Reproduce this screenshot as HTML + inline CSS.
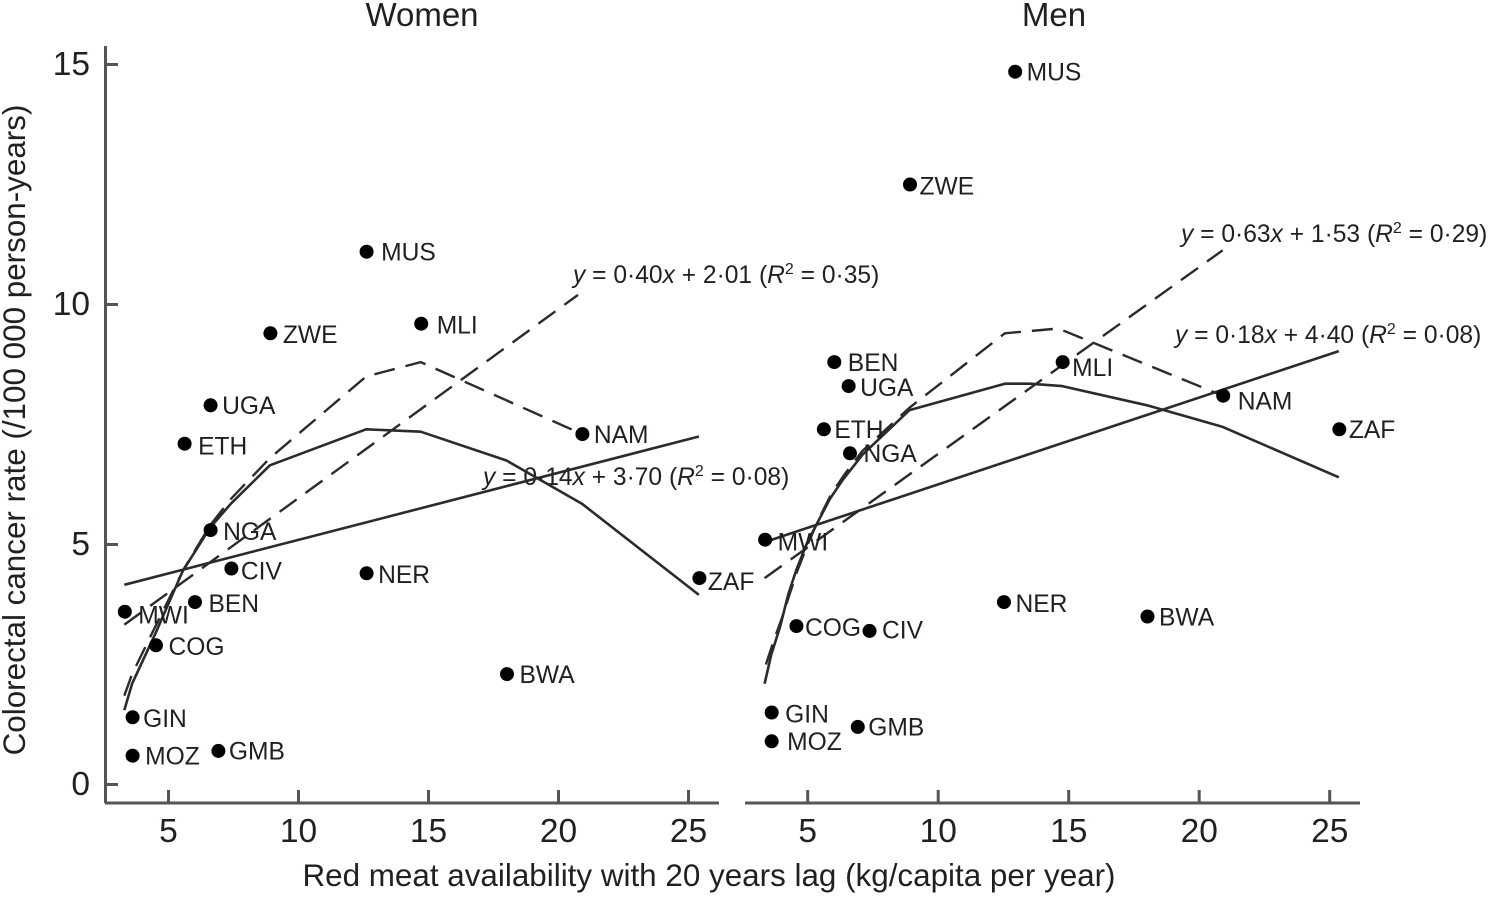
<!DOCTYPE html>
<html lang="en">
<head>
<meta charset="utf-8">
<title>Colorectal cancer rate vs red meat availability</title>
<style>
html,body{margin:0;padding:0;background:#fff;}
svg{display:block;}
text{font-family:"Liberation Sans",Arial,sans-serif;fill:#231f20;}
.pt{font-size:24.6px;}
.eq{font-size:24.6px;}
.tick{font-size:33.5px;}
.title{font-size:33px;}
.axt{font-size:31.4px;}
.fit{fill:none;stroke:#2b2b2b;stroke-width:2.6;stroke-linejoin:round;}
.dash{stroke-dasharray:21 11;stroke-width:2.4;}
.axis{stroke:#555;stroke-width:3;fill:none;}
</style>
</head>
<body>
<svg id="chart" width="1491" height="897" viewBox="0 0 1491 897" xmlns="http://www.w3.org/2000/svg">
<text class="title" x="422" y="26" text-anchor="middle">Women</text>
<text class="title" x="1054" y="26" text-anchor="middle">Men</text>
<text class="axt" x="709" y="886" text-anchor="middle">Red meat availability with 20 years lag (kg/capita per year)</text>
<text class="axt" transform="translate(25,430) rotate(-90)" text-anchor="middle">Colorectal cancer rate (/100 000 person-years)</text>
<text class="eq" x="573" y="283"><tspan font-style="italic">y</tspan> = 0·40<tspan font-style="italic">x</tspan> + 2·01 (<tspan font-style="italic">R</tspan><tspan dy="-9" font-size="16">2</tspan><tspan dy="9"> = 0·35)</tspan></text>
<text class="eq" x="483" y="485"><tspan font-style="italic">y</tspan> = 0·14<tspan font-style="italic">x</tspan> + 3·70 (<tspan font-style="italic">R</tspan><tspan dy="-9" font-size="16">2</tspan><tspan dy="9"> = 0·08)</tspan></text>
<text class="eq" x="1181" y="242"><tspan font-style="italic">y</tspan> = 0·63<tspan font-style="italic">x</tspan> + 1·53 (<tspan font-style="italic">R</tspan><tspan dy="-9" font-size="16">2</tspan><tspan dy="9"> = 0·29)</tspan></text>
<text class="eq" x="1175" y="343"><tspan font-style="italic">y</tspan> = 0·18<tspan font-style="italic">x</tspan> + 4·40 (<tspan font-style="italic">R</tspan><tspan dy="-9" font-size="16">2</tspan><tspan dy="9"> = 0·08)</tspan></text>
</svg>
<script>
// ---------- data ----------
const countries = ['MWI','GIN','MOZ','COG','BEN','ETH','UGA','NGA','GMB','CIV','ZWE','NER','MUS','MLI','BWA','NAM','ZAF'];
const meatWomen = [3.3,3.6,3.6,4.5,6.0,5.6,6.6,6.6,6.9,7.4,8.9,12.6,12.6,14.7,18.0,20.9,25.4];
const rateWomen = [3.6,1.4,0.6,2.9,3.8,7.1,7.9,5.3,0.7,4.5,9.4,4.4,11.1,9.6,2.3,7.3,4.3];
const meatMen = [3.35,3.6,3.6,4.55,6.0,5.6,6.55,6.6,6.9,7.35,8.9,12.5,12.93,14.75,18.0,20.9,25.35];
const rateMen = [5.1,1.5,0.9,3.3,8.8,7.4,8.3,6.9,1.2,3.2,12.5,3.8,14.85,8.8,3.5,8.1,7.4];

const womenLinearX = [3.3,25.4];
const womenLinearY = [4.16,7.25];
const womenDashLinearX = [3.3,20.75];
const womenDashLinearY = [3.33,10.2];
const womenCurveX = [3.3,3.6,4.5,5.55,6.6,7.4,8.9,12.6,14.7,18.0,20.9,25.4];
const womenCurveY = [1.55,2.1,3.15,4.45,5.35,5.85,6.65,7.4,7.35,6.75,5.85,3.95];
const womenDashCurveX = [3.3,3.6,4.5,5.6,6.6,7.4,8.9,12.6,14.7,20.7];
const womenDashCurveY = [1.85,2.3,3.3,4.5,5.4,5.95,6.8,8.5,8.8,7.35];

const menLinearX = [3.35,25.35];
const menLinearY = [5.05,9.03];
const menDashLinearX = [3.35,20.9];
const menDashLinearY = [4.3,11.13];
const menCurveX = [3.35,3.6,3.95,4.25,4.55,4.95,5.35,5.85,6.35,7.1,8.9,12.55,13.5,14.75,18.0,20.9,25.35];
const menCurveY = [2.1,2.7,3.3,3.95,4.45,5.0,5.43,5.95,6.35,6.87,7.8,8.35,8.35,8.3,7.9,7.45,6.4];
const menDashCurveX = [3.4,3.7,4.0,4.3,4.6,5.0,5.4,5.9,6.4,7.1,8.9,12.55,14.6,20.9];
const menDashCurveY = [2.5,3.0,3.45,3.95,4.45,5.0,5.5,6.05,6.45,6.95,7.85,9.4,9.5,8.1];

const xTicks = [5,10,15,20,25];
const yTicks = [0,5,10,15];

// ---------- label placement (layout only) ----------
const womenLabelShift = {MWI:[14,3],GIN:[11,1],MOZ:[13,0],COG:[13,1],BEN:[14,1],ETH:[14,2],UGA:[12,0],NGA:[13,1],GMB:[11,0],CIV:[10,2],ZWE:[13,1],NER:[12,1],MUS:[15,0],MLI:[16,1],BWA:[13,0],NAM:[12,0],ZAF:[9,3]};
const menLabelShift = {MWI:[13,2],GIN:[14,1],MOZ:[16,0],COG:[9,1],BEN:[14,0],ETH:[11,0],UGA:[12,1],NGA:[14,0],GMB:[11,0],CIV:[13,-1],ZWE:[10,1],NER:[12,1],MUS:[12,0],MLI:[10,5],BWA:[12,0],NAM:[15,5],ZAF:[10,0]};

// ---------- axis functions ----------
const svg = document.getElementById('chart');
const NS = 'http://www.w3.org/2000/svg';
const yScale = v => 784.5 - 48.0 * v;
const xWomen = v => 168.5 + (v - 5) * 26.0;
const xMen = v => 807.7 + (v - 5) * 26.1;

function make(tag, attrs, text) {
  const el = document.createElementNS(NS, tag);
  for (const k in attrs) el.setAttribute(k, attrs[k]);
  if (text !== undefined) el.textContent = text;
  svg.appendChild(el);
  return el;
}

function drawLine(xs, ys, xFn, cls, name) {
  const d = xs.map((x, i) => (i ? 'L' : 'M') + xFn(x).toFixed(1) + ' ' + yScale(ys[i]).toFixed(1)).join(' ');
  const el = make('path', {d: d, class: cls});
  
  
}

function drawXAxis(xFn, x0, x1, prefix) {
  const axis = make('line', {x1: x0, x2: x1, y1: 803, y2: 803, class: 'axis'});
  
  
  xTicks.forEach(t => {
    const tk = make('line', {x1: xFn(t), x2: xFn(t), y1: 790, y2: 803, class: 'axis'});
    
    
    const lb = make('text', {x: xFn(t), y: 842, class: 'tick', 'text-anchor': 'middle'}, String(t));
    
    
  });
}

function drawPoints(xs, ys, xFn, shifts, prefix) {
  countries.forEach((c, i) => {
    const px = xFn(xs[i]), py = yScale(ys[i]);
    const dot = make('circle', {cx: px + 0.5, cy: py, r: 7, fill: '#000'});
    
    
    const s = shifts[c];
    const lb = make('text', {x: px + s[0], y: py + s[1] + 8.8, class: 'pt'}, c);
    
    
  });
}

// ---------- y axis (left panel only) ----------
const yAxis = make('line', {x1: 105.5, x2: 105.5, y1: 46, y2: 803, class: 'axis'});


yTicks.forEach(t => {
  const tk = make('line', {x1: 105.5, x2: 118, y1: yScale(t), y2: yScale(t), class: 'axis'});
  
  
  const lb = make('text', {x: 90, y: yScale(t) + 10.5, class: 'tick', 'text-anchor': 'end'}, String(t));
  
  
});

drawXAxis(xWomen, 105, 719, 'women');
drawXAxis(xMen, 745, 1360, 'men');

// ---------- women ----------
drawLine(womenLinearX, womenLinearY, xWomen, 'fit', 'women-linear-fit-all');
drawLine(womenDashLinearX, womenDashLinearY, xWomen, 'fit dash', 'women-linear-fit-dashed');
drawLine(womenCurveX, womenCurveY, xWomen, 'fit', 'women-curve-fit-all');
drawLine(womenDashCurveX, womenDashCurveY, xWomen, 'fit dash', 'women-curve-fit-dashed');
drawPoints(meatWomen, rateWomen, xWomen, womenLabelShift, 'women');

// ---------- men ----------
drawLine(menLinearX, menLinearY, xMen, 'fit', 'men-linear-fit-all');
drawLine(menDashLinearX, menDashLinearY, xMen, 'fit dash', 'men-linear-fit-dashed');
drawLine(menCurveX, menCurveY, xMen, 'fit', 'men-curve-fit-all');
drawLine(menDashCurveX, menDashCurveY, xMen, 'fit dash', 'men-curve-fit-dashed');
drawPoints(meatMen, rateMen, xMen, menLabelShift, 'men');
</script>
</body>
</html>
